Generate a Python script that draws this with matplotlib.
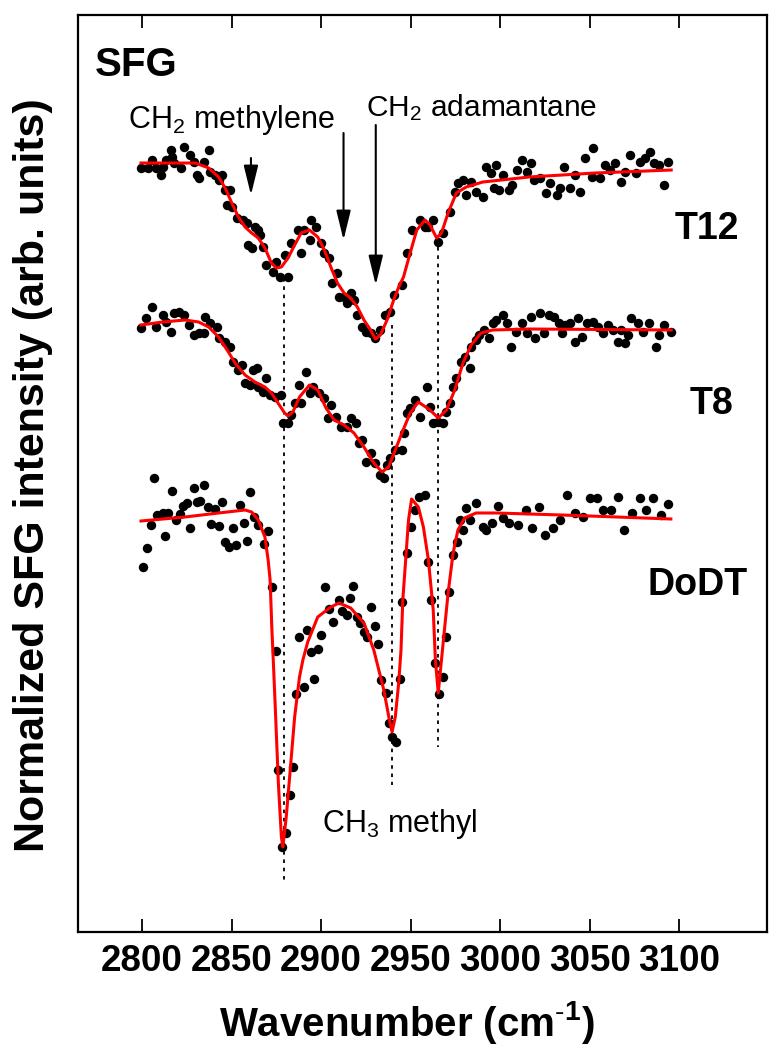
import matplotlib.pyplot as plt

plt.rcParams['font.family'] = ['Liberation Sans', 'DejaVu Sans']
plt.rcParams['mathtext.fontset'] = 'custom'
plt.rcParams['mathtext.rm'] = 'Liberation Sans'
plt.rcParams['mathtext.it'] = 'Liberation Sans:italic'
plt.rcParams['mathtext.bf'] = 'Liberation Sans:bold'

# ---- data (wavenumber in cm-1, signal in arb. units, traces already offset) ----
t12_wn = [2799.4, 2803.1, 2805.8, 2807.7, 2810.4, 2811.4, 2813.2, 2816.0, 2816.9, 2817.8,
          2821.5, 2823.3, 2827.0, 2828.9, 2830.7, 2831.6, 2834.4, 2837.2, 2838.1, 2840.9,
          2842.7, 2844.5, 2846.4, 2847.3, 2849.1, 2850.1, 2852.9, 2856.5, 2858.4, 2859.3,
          2861.2, 2863.0, 2864.9, 2865.8, 2867.6, 2869.4, 2873.1, 2875.0, 2876.8, 2879.6,
          2881.5, 2883.3, 2887.0, 2888.8, 2890.7, 2893.5, 2894.4, 2897.1, 2899.9, 2901.8,
          2904.5, 2906.3, 2909.1, 2910.0, 2912.8, 2914.6, 2916.5, 2918.3, 2920.2, 2922.9,
          2924.8, 2927.6, 2930.3, 2933.1, 2935.9, 2938.6, 2940.5, 2945.1, 2947.8, 2950.6,
          2955.2, 2958.0, 2959.8, 2962.6, 2965.4, 2968.1, 2971.8, 2974.6, 2976.4, 2979.2,
          2981.0, 2983.8, 2986.5, 2990.2, 2992.1, 2994.8, 2996.7, 2997.6, 2999.4, 3001.3,
          3005.0, 3006.8, 3009.6, 3012.4, 3015.1, 3017.0, 3018.8, 3022.5, 3025.3, 3028.0,
          3031.7, 3033.5, 3035.4, 3039.1, 3041.9, 3044.6, 3047.4, 3051.1, 3052.0, 3055.7,
          3058.5, 3061.3, 3064.0, 3067.7, 3069.5, 3072.3, 3076.0, 3077.8, 3080.6, 3083.4,
          3086.1, 3088.9, 3091.7, 3093.5]
t12_sig = [792, 792, 800, 792, 785, 793, 800, 810, 803, 797,
           792, 813, 805, 798, 785, 782, 798, 810, 788, 785,
           780, 785, 770, 755, 770, 753, 742, 740, 737, 715,
           712, 733, 730, 725, 713, 695, 688, 698, 683, 705,
           683, 717, 730, 707, 730, 720, 740, 733, 717, 707,
           702, 677, 687, 663, 663, 657, 667, 660, 645, 633,
           628, 627, 622, 630, 645, 648, 665, 675, 707, 730,
           740, 733, 733, 740, 718, 727, 748, 768, 777, 780,
           765, 778, 768, 763, 793, 787, 772, 795, 770, 785,
           770, 775, 790, 800, 788, 797, 780, 782, 767, 777,
           765, 772, 793, 772, 785, 768, 802, 783, 812, 782,
           795, 790, 797, 778, 788, 805, 787, 798, 802, 808,
           797, 795, 775, 798]
t12_fit_wn = [2799.4, 2829.8, 2837.2, 2842.7, 2846.4, 2850.1, 2853.8, 2857.5, 2861.2, 2864.9,
              2868.6, 2872.2, 2875.0, 2877.8, 2881.5, 2885.2, 2888.8, 2893.5, 2898.1, 2901.8,
              2905.4, 2909.1, 2912.8, 2916.5, 2920.2, 2923.9, 2927.6, 2930.3, 2933.1, 2936.8,
              2940.5, 2943.3, 2946.0, 2949.7, 2953.4, 2958.0, 2960.8, 2964.5, 2967.2, 2970.9,
              2975.5, 2981.0, 2990.3, 3016.1, 3053.0, 3095.5]
t12_fit_sig = [797, 797, 792, 783, 772, 757, 743, 733, 727, 722,
               712, 697, 692, 693, 702, 715, 727, 730, 723, 710,
               693, 677, 667, 662, 653, 640, 630, 621, 625, 640,
               660, 673, 683, 707, 730, 740, 735, 722, 727, 747,
               767, 773, 778, 783, 787, 790]

t8_wn = [2799.4, 2802.1, 2805.8, 2807.7, 2811.4, 2813.2, 2816.0, 2817.8, 2820.6, 2823.3,
         2826.1, 2828.9, 2831.6, 2834.4, 2835.3, 2838.1, 2841.8, 2842.7, 2846.4, 2849.1,
         2851.0, 2853.8, 2855.6, 2857.5, 2860.3, 2862.1, 2864.0, 2864.9, 2867.6, 2869.4,
         2871.3, 2874.0, 2877.7, 2878.6, 2881.5, 2883.3, 2885.2, 2887.9, 2888.8, 2891.6,
         2893.5, 2895.3, 2899.0, 2901.8, 2903.6, 2905.4, 2908.2, 2910.9, 2914.6, 2916.5,
         2919.2, 2921.1, 2922.9, 2924.8, 2927.6, 2930.3, 2933.1, 2935.0, 2936.8, 2938.6,
         2941.4, 2945.1, 2946.0, 2947.8, 2949.7, 2952.4, 2955.2, 2958.9, 2960.8, 2962.6,
         2965.4, 2968.1, 2970.0, 2971.8, 2973.7, 2975.5, 2978.3, 2980.1, 2982.9, 2983.8,
         2986.5, 2988.4, 2991.1, 2993.9, 2995.8, 2997.6, 3001.3, 3004.0, 3005.9, 3008.7,
         3012.4, 3015.1, 3017.0, 3019.7, 3022.5, 3024.4, 3027.1, 3029.9, 3032.6, 3034.5,
         3036.3, 3039.1, 3041.9, 3043.7, 3045.5, 3048.3, 3052.0, 3054.8, 3057.5, 3060.3,
         3063.0, 3065.8, 3067.6, 3069.5, 3071.3, 3073.2, 3076.9, 3079.6, 3083.3, 3087.0,
         3088.9, 3091.6, 3095.3]
t8_sig = [632, 642, 653, 633, 645, 638, 628, 647, 648, 645,
          635, 625, 627, 627, 643, 637, 633, 622, 618, 613,
          598, 590, 595, 577, 575, 590, 592, 573, 568, 582,
          565, 563, 565, 537, 537, 545, 557, 575, 557, 588,
          567, 573, 567, 562, 542, 555, 543, 533, 533, 542,
          537, 517, 520, 498, 507, 497, 485, 482, 495, 502,
          510, 510, 527, 547, 552, 560, 543, 573, 553, 537,
          538, 537, 548, 557, 573, 582, 598, 603, 592, 613,
          620, 625, 630, 622, 637, 640, 645, 637, 613, 628,
          637, 627, 643, 622, 647, 627, 645, 643, 637, 627,
          635, 637, 618, 642, 623, 637, 638, 633, 627, 635,
          630, 618, 630, 617, 625, 642, 637, 628, 637, 613,
          625, 635, 628]
t8_fit_wn = [2799.4, 2811.4, 2824.0, 2831.6, 2837.2, 2842.7, 2848.2, 2851.9, 2857.5, 2863.0,
             2868.6, 2872.2, 2875.9, 2879.6, 2881.5, 2884.2, 2887.9, 2893.5, 2898.1, 2902.7,
             2907.3, 2912.8, 2918.3, 2923.9, 2929.4, 2934.0, 2937.7, 2941.4, 2945.1, 2949.7,
             2954.3, 2960.8, 2965.4, 2970.0, 2974.6, 2979.2, 2983.8, 2989.3, 2995.8, 3016.1,
             3095.5]
t8_fit_sig = [635, 638, 640, 638, 633, 623, 608, 597, 585, 578,
              573, 567, 557, 547, 544, 548, 563, 575, 570, 552,
              540, 535, 527, 513, 497, 488, 493, 510, 527, 547,
              558, 550, 542, 550, 570, 597, 615, 627, 630, 631,
              630]

dodt_wn = [2800.6, 2803.0, 2804.9, 2806.7, 2808.6, 2811.4, 2812.8, 2814.7, 2816.9, 2818.7,
           2821.1, 2823.0, 2825.0, 2826.5, 2828.9, 2830.7, 2832.6, 2834.8, 2836.6, 2838.7,
           2840.9, 2842.7, 2844.5, 2846.4, 2848.6, 2850.6, 2852.2, 2854.5, 2856.7, 2858.4,
           2860.4, 2862.3, 2864.9, 2868.3, 2870.4, 2872.6, 2874.6, 2875.9, 2878.3, 2880.5,
           2882.4, 2884.2, 2886.1, 2887.9, 2890.3, 2892.3, 2894.1, 2896.2, 2898.1, 2900.0,
           2902.2, 2904.3, 2906.4, 2910.0, 2911.9, 2914.3, 2916.0, 2918.0, 2919.8, 2921.5,
           2923.7, 2925.7, 2928.0, 2929.8, 2932.0, 2933.5, 2936.2, 2937.7, 2939.6, 2942.0,
           2943.8, 2945.1, 2947.8, 2950.0, 2952.4, 2954.8, 2957.9, 2959.8, 2961.2, 2963.4,
           2965.6, 2968.1, 2969.9, 2971.4, 2973.6, 2976.0, 2977.3, 2979.2, 2981.0, 2983.2,
           2986.5, 2990.2, 2992.1, 2995.4, 2998.5, 3001.3, 3005.0, 3010.1, 3014.2, 3017.8,
           3021.9, 3025.2, 3029.3, 3033.5, 3037.2, 3041.8, 3046.4, 3050.1, 3053.8, 3057.5,
           3062.1, 3065.8, 3069.1, 3073.6, 3077.8, 3081.5, 3085.2, 3089.8, 3093.5]
dodt_sig = [393, 412, 435, 482, 445, 447, 424, 447, 469, 440,
            446, 454, 457, 432, 472, 458, 459, 475, 453, 436,
            451, 434, 458, 418, 413, 432, 415, 455, 437, 419,
            468, 443, 435, 416, 429, 373, 309, 190, 113, 127,
            165, 193, 266, 323, 273, 330, 308, 281, 311, 325,
            373, 351, 338, 360, 349, 345, 362, 374, 343, 337,
            328, 323, 353, 334, 316, 280, 267, 237, 223, 218,
            281, 358, 407, 433, 450, 463, 465, 398, 360, 297,
            266, 283, 323, 368, 405, 418, 440, 430, 452, 440,
            457, 433, 430, 437, 454, 442, 437, 435, 450, 432,
            453, 425, 432, 440, 465, 447, 443, 462, 462, 450,
            450, 463, 430, 447, 462, 450, 462, 445, 456]
dodt_fit_wn = [2799.4, 2824.0, 2842.7, 2857.5, 2861.2, 2864.9, 2868.6, 2870.4, 2871.5, 2872.5,
               2873.5, 2874.6, 2876.1, 2877.8, 2878.6, 2880.5, 2882.4, 2885.2, 2887.9, 2889.8,
               2892.5, 2898.1, 2905.4, 2910.0, 2916.5, 2923.9, 2929.4, 2935.0, 2937.8, 2939.6,
               2941.4, 2943.3, 2944.6, 2945.6, 2947.2, 2948.8, 2950.5, 2954.3, 2957.1, 2959.9,
               2962.6, 2963.8, 2965.4, 2967.2, 2970.9, 2973.7, 2976.4, 2980.1, 2986.5, 2997.6,
               3034.5, 3095.3]
dodt_fit_sig = [439, 443, 447, 450, 448, 440, 423, 400, 380, 330,
                290, 243, 177, 123, 113, 143, 183, 243, 283, 300,
                318, 343, 353, 357, 352, 337, 310, 270, 243, 228,
                243, 277, 310, 360, 400, 440, 461, 453, 433, 400,
                350, 300, 267, 300, 367, 407, 430, 442, 447, 447,
                445, 441]

# dotted guide lines through the CH3 / CH2 resonances: position, top, bottom
guide_wn = [2879.5, 2939.5, 2965.5]
guide_top = [682, 635, 713]
guide_bottom = [80, 175, 213]

# arrows: position, tail, tip
arrow_wn = [2860.8, 2912.5, 2930.5]
arrow_tail = [802, 827, 835]
arrow_tip = [765, 720, 675]

traces = [(t12_wn, t12_sig, t12_fit_wn, t12_fit_sig),
          (t8_wn, t8_sig, t8_fit_wn, t8_fit_sig),
          (dodt_wn, dodt_sig, dodt_fit_wn, dodt_fit_sig)]

fig = plt.figure(figsize=(7.76, 10.5), dpi=100)
ax = fig.add_axes([0.1005, 0.1124, 0.8879, 0.8733])

for wn, sig, fwn, fsig in traces:
    ax.plot(wn, sig, 'o', color='black', ms=6.8, mew=0, zorder=2)
    ax.plot(fwn, fsig, '-', color='#ff0000', lw=2.2, zorder=3)

for x0, y0, y1 in zip(guide_wn, guide_top, guide_bottom):
    ax.plot([x0, x0], [y0, y1], color='black', lw=1.3, ls=(0, (2, 2.6)), zorder=1)

for x0, y0, y1 in zip(arrow_wn, arrow_tail, arrow_tip):
    ax.annotate('', xy=(x0, y1), xytext=(x0, y0),
                arrowprops=dict(arrowstyle='-|>,head_length=0.9,head_width=0.22',
                                color='black', lw=1.5, mutation_scale=20,
                                shrinkA=0, shrinkB=0))

# labels inside the plot
ax.text(2773.5, 884, 'SFG', fontsize=29, fontweight='bold', va='baseline')
ax.text(2792.0, 832, 'CH$_2$ methylene', fontsize=22, va='baseline')
ax.text(2925.0, 844, 'CH$_2$ adamantane', fontsize=21.5, va='baseline')
ax.text(2900.5, 128, 'CH$_3$ methyl', fontsize=22, va='baseline')
ax.text(3097.5, 731, 'T12', fontsize=27, fontweight='bold', va='center')
ax.text(3106.0, 556, 'T8', fontsize=27, fontweight='bold', va='center')
ax.text(3082.5, 375, 'DoDT', fontsize=27, fontweight='bold', va='center')

ax.set_xlim(2764.2, 3149)
ax.set_ylim(28, 945)
ax.set_xticks([2800, 2850, 2900, 2950, 3000, 3050, 3100])
ax.set_yticks([])
ax.tick_params(axis='x', which='both', direction='in', top=True, bottom=True,
               length=9.5, width=1.3, labelsize=26.5, pad=9)
for lbl in ax.get_xticklabels():
    lbl.set_fontweight('bold')
for sp in ax.spines.values():
    sp.set_linewidth(1.6)

ax.set_xlabel(r'Wavenumber (cm$^{\text{-}\mathbf{1}}$)', fontsize=29, fontweight='bold')
ax.xaxis.set_label_coords(0.4775, -0.073)
fig.text(33 / 776, 1 - 475 / 1050, 'Normalized SFG intensity (arb. units)',
         rotation=90, ha='center', va='center', fontsize=31, fontweight='bold')

fig.savefig('out.png', dpi=100)
